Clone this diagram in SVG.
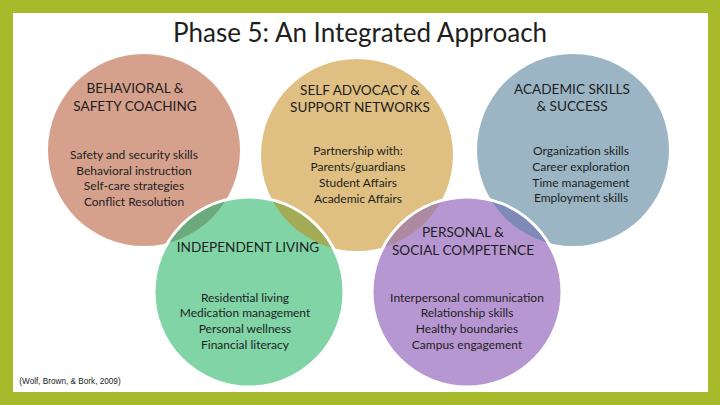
<svg xmlns="http://www.w3.org/2000/svg" width="720" height="405" viewBox="0 0 720 405">
<defs>
<style>
.t{font-family:Lato,"Open Sans","Liberation Sans",sans-serif;fill:#1e1e1e;text-anchor:middle}
.h{font-size:13.6px}
.b{font-size:12px}
.bc{stroke:#ffffff;stroke-width:3}
</style>
<clipPath id="cG"><circle cx="249" cy="292" r="93.5"/></clipPath>
<clipPath id="cP"><circle cx="467" cy="292" r="93.5"/></clipPath>
</defs>
<rect x="0" y="0" width="720" height="405" fill="#a6ba2b"/>
<rect x="13" y="13" width="695" height="379" fill="#ffffff"/>
<text class="t" x="360" y="42" font-size="26">Phase 5: An Integrated Approach</text>

<g id="behavioral">
<circle cx="144" cy="150" r="96" fill="#d5a08c"/>
<text class="t h" x="135" y="93">BEHAVIORAL &amp;</text>
<text class="t h" x="135" y="111">SAFETY COACHING</text>
<text class="t b" x="134" y="159">Safety and security skills</text>
<text class="t b" x="134" y="175">Behavioral instruction</text>
<text class="t b" x="134" y="190">Self-care strategies</text>
<text class="t b" x="134" y="206">Conflict Resolution</text>
</g>
<g id="selfadvocacy">
<circle cx="357" cy="155" r="96" fill="#dfbf82"/>
<text class="t h" x="360" y="95">SELF ADVOCACY &amp;</text>
<text class="t h" x="360" y="112">SUPPORT NETWORKS</text>
<text class="t b" x="358" y="155">Partnership with:</text>
<text class="t b" x="358" y="171">Parents/guardians</text>
<text class="t b" x="358" y="187">Student Affairs</text>
<text class="t b" x="358" y="203">Academic Affairs</text>
</g>
<g id="academic">
<circle cx="573" cy="150" r="96" fill="#9bb5c4"/>
<text class="t h" x="572" y="94">ACADEMIC SKILLS</text>
<text class="t h" x="572" y="111">&amp; SUCCESS</text>
<text class="t b" x="581" y="155">Organization skills</text>
<text class="t b" x="581" y="171">Career exploration</text>
<text class="t b" x="581" y="187">Time management</text>
<text class="t b" x="581" y="202">Employment skills</text>
</g>
<g id="independent">
<circle class="bc" cx="249" cy="292" r="95" fill="#80d4a6"/>
<text class="t h" x="248" y="252">INDEPENDENT LIVING</text>
<text class="t b" x="245" y="302">Residential living</text>
<text class="t b" x="245" y="317">Medication management</text>
<text class="t b" x="245" y="333">Personal wellness</text>
<text class="t b" x="245" y="349">Financial literacy</text>
</g>
<g id="personal">
<circle class="bc" cx="467" cy="292" r="95" fill="#b797d1"/>
<text class="t h" x="463" y="237">PERSONAL &amp;</text>
<text class="t h" x="463" y="255">SOCIAL COMPETENCE</text>
<text class="t b" x="467" y="302">Interpersonal communication</text>
<text class="t b" x="467" y="317">Relationship skills</text>
<text class="t b" x="467" y="333">Healthy boundaries</text>
<text class="t b" x="467" y="349">Campus engagement</text>
</g>
<g id="connectors">
<circle cx="144" cy="150" r="96" fill="#6ca97b" clip-path="url(#cG)"/>
<circle cx="357" cy="155" r="96" fill="#a3ab56" clip-path="url(#cG)"/>
<circle cx="357" cy="155" r="96" fill="#ae8aa0" clip-path="url(#cP)"/>
<circle cx="573" cy="150" r="96" fill="#7e8bb8" clip-path="url(#cP)"/>
</g>
<text x="70" y="384" font-family="Liberation Sans,sans-serif" font-size="8.2" fill="#222" text-anchor="middle">(Wolf, Brown, &amp; Bork, 2009)</text>
</svg>
